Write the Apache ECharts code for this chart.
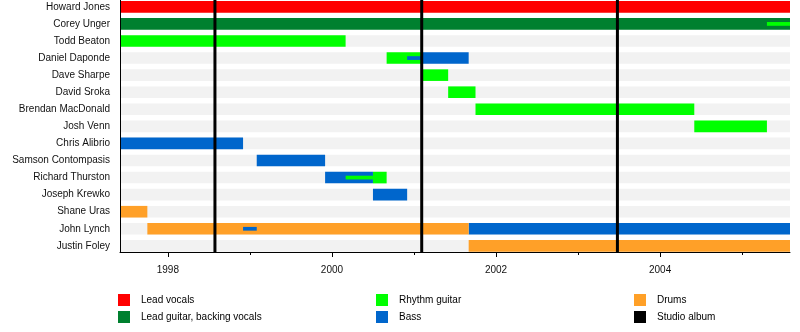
<!DOCTYPE html>
<html>
<head>
<meta charset="utf-8">
<script src="https://cdn.jsdelivr.net/npm/echarts@6/dist/echarts.min.js"></script>
<style>
  html, body { margin: 0; padding: 0; background: #fff; }
  #chart { width: 800px; height: 332px; }
</style>
</head>
<body>
<div id="chart"></div>
<script>
// Band members, top to bottom
const members = [
  'Howard Jones', 'Corey Unger', 'Todd Beaton', 'Daniel Daponde', 'Dave Sharpe',
  'David Sroka', 'Brendan MacDonald', 'Josh Venn', 'Chris Alibrio', 'Samson Contompasis',
  'Richard Thurston', 'Joseph Krewko', 'Shane Uras', 'John Lynch', 'Justin Foley'
];

const timelineStart = '1997-06';
const timelineEnd = '2005-08';

// [member, from, to]
const leadVocals = [
  ['Howard Jones', '1997-06', '2005-08']
];
const leadGuitar = [
  ['Corey Unger', '1997-06', '2005-08']
];
const rhythmGuitar = [
  ['Todd Beaton', '1997-06', '2000-03'],
  ['Daniel Daponde', '2000-09', '2001-02-05'],
  ['Dave Sharpe', '2001-02-05', '2001-06'],
  ['David Sroka', '2001-06', '2001-10'],
  ['Brendan MacDonald', '2001-10', '2004-06'],
  ['Josh Venn', '2004-06', '2005-04-20'],
  ['Richard Thurston', '2000-07', '2000-09']
];
const rhythmGuitarSecondary = [
  ['Corey Unger', '2005-04-20', '2005-08'],
  ['Richard Thurston', '2000-03', '2000-07']
];
const bass = [
  ['Daniel Daponde', '2001-02-05', '2001-09'],
  ['Chris Alibrio', '1997-06', '1998-12'],
  ['Samson Contompasis', '1999-02', '1999-12'],
  ['Richard Thurston', '1999-12', '2000-07'],
  ['Joseph Krewko', '2000-07', '2000-12'],
  ['John Lynch', '2001-09', '2005-08']
];
const bassSecondary = [
  ['Daniel Daponde', '2000-12', '2001-02-05'],
  ['John Lynch', '1998-12', '1999-02']
];
const drums = [
  ['Shane Uras', '1997-06', '1997-10'],
  ['John Lynch', '1997-10', '2001-09'],
  ['Justin Foley', '2001-09', '2005-08']
];
const studioAlbums = ['1998-07-28', '2001-02-05', '2003-06-24'];

const yearTicks = [1998, 2000, 2002, 2004];
const yearMinorTicks = [1999, 2001, 2003, 2005];

// 'YYYY-MM[-DD]' -> fractional year
function toYear(s) {
  const p = s.split('-').map(Number);
  return p[0] + (p[1] - 1) / 12 + ((p[2] || 1) - 1) / 365;
}
function spans(list) {
  return list.map(([name, from, to]) => [toYear(from), toYear(to), members.indexOf(name)]);
}

function barRenderer(ratio) {
  return function (params, api) {
    const a = api.coord([api.value(0), api.value(2)]);
    const b = api.coord([api.value(1), api.value(2)]);
    const h = api.size([0, 1])[1] * ratio;
    return {
      type: 'rect',
      shape: { x: a[0], y: a[1] - h / 2, width: b[0] - a[0], height: h },
      style: { fill: api.visual('color') }
    };
  };
}

function albumRenderer(params, api) {
  const x = api.coord([api.value(0), 0])[0];
  const cs = params.coordSys;
  return {
    type: 'line',
    shape: { x1: x, y1: cs.y, x2: x, y2: cs.y + cs.height },
    style: { stroke: api.visual('color'), lineWidth: 3 }
  };
}

const FONT = '"Liberation Sans", Arial, sans-serif';
const BAR = 0.68;
const THIN = 0.22;

function barSeries(name, color, list, ratio) {
  return {
    type: 'custom',
    name: name,
    renderItem: barRenderer(ratio),
    itemStyle: { color: color },
    encode: { x: [0, 1], y: 2 },
    data: spans(list),
    silent: true
  };
}

const legendCommon = {
  orient: 'vertical',
  top: 294,
  padding: 0,
  itemWidth: 12,
  itemHeight: 12,
  itemGap: 5,
  icon: 'rect',
  selectedMode: false,
  textStyle: { fontFamily: FONT, fontSize: 10, color: '#000', padding: [0, 0, 0, 6] }
};

const chart = echarts.init(document.getElementById('chart'), null, { renderer: 'canvas' });
chart.setOption({
  animation: false,
  backgroundColor: '#fff',
  grid: { left: 120, right: 10, top: 0, bottom: 80 },
  legend: [
    Object.assign({ left: 118, data: ['Lead vocals', 'Lead guitar, backing vocals'] }, legendCommon),
    Object.assign({ left: 376, data: ['Rhythm guitar', 'Bass'] }, legendCommon),
    Object.assign({ left: 634, data: ['Drums', 'Studio album'] }, legendCommon)
  ],
  xAxis: [
    {
      type: 'value',
      position: 'bottom',
      z: 10,
      min: toYear(timelineStart),
      max: toYear(timelineEnd),
      splitLine: { show: false },
      axisLine: { show: true, onZero: false, lineStyle: { color: '#000', width: 1 } },
      axisTick: { show: true, customValues: yearTicks, length: 5, lineStyle: { color: '#000' } },
      axisLabel: {
        show: true, customValues: yearTicks, margin: 13,
        fontFamily: FONT, fontSize: 10, color: '#111',
        formatter: v => String(Math.round(v))
      }
    },
    {
      type: 'value',
      position: 'bottom',
      z: 10,
      min: toYear(timelineStart),
      max: toYear(timelineEnd),
      splitLine: { show: false },
      axisLine: { show: false, onZero: false },
      axisTick: { show: true, customValues: yearMinorTicks, length: 3, lineStyle: { color: '#000' } },
      axisLabel: { show: false }
    }
  ],
  yAxis: {
    type: 'value',
    inverse: true,
    z: 10,
    min: -0.401,
    max: 14.36,
    splitLine: { show: false },
    axisLine: { show: true, onZero: false, lineStyle: { color: '#000', width: 1 } },
    axisTick: { show: false },
    axisLabel: {
      show: true,
      customValues: members.map((_, i) => i),
      margin: 10,
      fontFamily: FONT, fontSize: 10, color: '#111',
      formatter: v => members[Math.round(v)] || ''
    }
  },
  series: [
    {
      type: 'custom',
      renderItem: barRenderer(BAR),
      itemStyle: { color: '#f2f2f2' },
      encode: { x: [0, 1], y: 2 },
      data: members.map((_, i) => [toYear(timelineStart), toYear(timelineEnd), i]),
      silent: true
    },
    barSeries('Lead vocals', '#ff0000', leadVocals, BAR),
    barSeries('Lead guitar, backing vocals', '#00802f', leadGuitar, BAR),
    barSeries('Rhythm guitar', '#00ff00', rhythmGuitar, BAR),
    barSeries('Bass', '#0066cc', bass, BAR),
    barSeries('Drums', '#ffa028', drums, BAR),
    barSeries('Rhythm guitar', '#00ff00', rhythmGuitarSecondary, THIN),
    barSeries('Bass', '#0066cc', bassSecondary, THIN),
    {
      type: 'custom',
      name: 'Studio album',
      renderItem: albumRenderer,
      itemStyle: { color: '#000' },
      encode: { x: 0 },
      data: studioAlbums.map(d => [toYear(d)]),
      silent: true
    }
  ]
});
</script>
</body>
</html>
